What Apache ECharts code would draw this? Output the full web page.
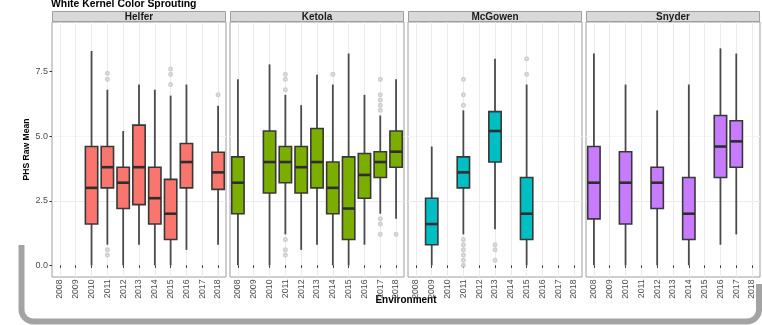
<!DOCTYPE html>
<html>
<head>
<meta charset="utf-8">
<script src="https://cdn.jsdelivr.net/npm/echarts@6/dist/echarts.min.js"></script>
<style>
  html, body { margin: 0; padding: 0; background: #ffffff; }
  #chart { width: 762px; height: 325px; }
</style>
</head>
<body>
<div id="chart"></div>
<script>
// Environments on the x axis of every panel
const years = ['2008', '2009', '2010', '2011', '2012', '2013', '2014', '2015', '2016', '2017', '2018'];
// y-axis tick labels
const yTicks = [0, 2.5, 5, 7.5];
// Panel (location) names
const locations = ['Helfer', 'Ketola', 'McGowen', 'Snyder'];

// Box statistics per location: [year, min, Q1, median, Q3, max]
const helferBoxes = [
  ['2010', 0.0, 1.6, 3.0, 4.6, 8.3],
  ['2011', 0.8, 3.0, 3.8, 4.6, 6.8],
  ['2012', 0.0, 2.2, 3.2, 3.8, 5.2],
  ['2013', 0.8, 2.35, 3.8, 5.43, 7.0],
  ['2014', 0.0, 1.6, 2.6, 3.8, 6.8],
  ['2015', 0.0, 1.0, 2.0, 3.33, 6.57],
  ['2016', 0.6, 3.0, 4.0, 4.72, 7.0],
  ['2018', 0.8, 2.94, 3.6, 4.38, 6.18]
];
const ketolaBoxes = [
  ['2008', 0.0, 2.0, 3.2, 4.2, 7.2],
  ['2010', 0.0, 2.8, 4.0, 5.2, 7.78],
  ['2011', 1.2, 3.2, 4.0, 4.6, 6.6],
  ['2012', 0.6, 2.8, 3.8, 4.6, 6.2],
  ['2013', 0.8, 3.0, 4.0, 5.3, 7.38],
  ['2014', 0.0, 2.0, 3.0, 4.0, 7.0],
  ['2015', 0.0, 1.0, 2.2, 4.2, 8.2],
  ['2016', 0.8, 2.6, 3.5, 4.33, 6.6],
  ['2017', 2.0, 3.4, 4.0, 4.4, 5.8],
  ['2018', 1.8, 3.8, 4.4, 5.2, 7.2]
];
const mcgowenBoxes = [
  ['2009', 0.0, 0.8, 1.6, 2.6, 4.6],
  ['2011', 1.2, 3.0, 3.6, 4.2, 6.0],
  ['2013', 1.4, 4.0, 5.2, 5.95, 8.0],
  ['2015', 0.0, 1.0, 2.0, 3.4, 7.0]
];
const snyderBoxes = [
  ['2008', 0.0, 1.8, 3.2, 4.6, 8.2],
  ['2010', 0.0, 1.6, 3.2, 4.4, 7.0],
  ['2012', 0.0, 2.2, 3.2, 3.8, 6.0],
  ['2014', 0.0, 1.0, 2.0, 3.4, 7.0],
  ['2016', 0.8, 3.4, 4.6, 5.8, 8.4],
  ['2017', 1.2, 3.8, 4.8, 5.6, 8.2]
];

// Outlying plot means: [year, value]
const helferOutliers = [
  ['2011', 7.44], ['2011', 7.2], ['2011', 0.6], ['2011', 0.4],
  ['2015', 7.6], ['2015', 7.4], ['2015', 7.0],
  ['2018', 6.6]
];
const ketolaOutliers = [
  ['2011', 7.4], ['2011', 7.2], ['2011', 6.8], ['2011', 1.0], ['2011', 0.6], ['2011', 0.4],
  ['2014', 7.4],
  ['2017', 7.2], ['2017', 6.6], ['2017', 6.4], ['2017', 6.2], ['2017', 6.0],
  ['2017', 1.8], ['2017', 1.6], ['2017', 1.2],
  ['2018', 1.2]
];
const mcgowenOutliers = [
  ['2011', 7.2], ['2011', 6.6], ['2011', 6.2],
  ['2011', 1.0], ['2011', 0.8], ['2011', 0.6], ['2011', 0.4], ['2011', 0.2], ['2011', 0.0],
  ['2013', 0.8], ['2013', 0.6], ['2013', 0.2],
  ['2015', 8.0], ['2015', 7.4]
];
const snyderOutliers = [];

const boxSets = [helferBoxes, ketolaBoxes, mcgowenBoxes, snyderBoxes];
const outlierSets = [helferOutliers, ketolaOutliers, mcgowenOutliers, snyderOutliers];
const fills = ['#F8766D', '#7CAE00', '#00BFC4', '#C77CFF'];

const FONT = '"Liberation Sans", Arial, Helvetica, sans-serif';
const panelLeft = [52, 230, 408, 586];
const panelWidth = 174;
const panelTop = 22;
const panelHeight = 255;
const stripTop = 11;

// Tukey-style box: whiskers without caps, filled box, heavy median bar
function renderBox(params, api) {
  const x = api.value(0);
  const pts = [1, 2, 3, 4, 5].map(function (d) { return api.coord([x, api.value(d)]); });
  const cx = pts[0][0];
  const bw = api.size([1, 0])[0] * 0.78;
  const fill = api.visual('color');
  const whisker = { stroke: '#4a4a4a', lineWidth: 1.8 };
  return {
    type: 'group',
    children: [
      { type: 'line', shape: { x1: cx, y1: pts[0][1], x2: cx, y2: pts[1][1] }, style: whisker },
      { type: 'line', shape: { x1: cx, y1: pts[3][1], x2: cx, y2: pts[4][1] }, style: whisker },
      { type: 'rect', shape: { x: cx - bw / 2, y: pts[3][1], width: bw, height: pts[1][1] - pts[3][1] },
        style: { fill: fill, stroke: '#383838', lineWidth: 1.6 } },
      { type: 'line', shape: { x1: cx - bw / 2, y1: pts[2][1], x2: cx + bw / 2, y2: pts[2][1] },
        style: { stroke: '#2e2e2e', lineWidth: 2.6 } }
    ]
  };
}

// Rounded bracket outline: straight runs joined by quarter arcs
function bracketPoints(left, top, right, bottom, rightTop, r) {
  const pts = [[left, top]];
  let a;
  for (a = 0; a <= 8; a++) {
    const t = Math.PI - (a / 8) * (Math.PI / 2);
    pts.push([left + r + r * Math.cos(t), bottom - r + r * Math.sin(t)]);
  }
  for (a = 0; a <= 8; a++) {
    const t = Math.PI / 2 - (a / 8) * (Math.PI / 2);
    pts.push([right - r + r * Math.cos(t), bottom - r + r * Math.sin(t)]);
  }
  pts.push([right, rightTop]);
  return pts;
}

const grids = [], xAxes = [], yAxes = [], series = [], graphics = [];

locations.forEach(function (name, i) {
  grids.push({
    left: panelLeft[i], top: panelTop, width: panelWidth, height: panelHeight,
    show: true, backgroundColor: '#ffffff', borderColor: '#9e9e9e', borderWidth: 1
  });
  xAxes.push({
    type: 'category', gridIndex: i, data: years, boundaryGap: true,
    axisLine: { show: false },
    axisTick: { show: true, alignWithLabel: true, interval: 0, length: 2.5, lineStyle: { color: '#333333' } },
    axisLabel: { interval: 0, rotate: 90, fontSize: 8.7, color: '#4d4d4d', margin: 2.5, fontFamily: FONT },
    splitLine: { show: true, alignWithLabel: true, interval: 0, lineStyle: { color: '#ebebeb', width: 1 } }
  });
  yAxes.push({
    type: 'value', gridIndex: i, min: -0.45, max: 9.42, minInterval: 1.25, maxInterval: 1.25,
    axisLine: { show: false },
    axisTick: { show: i === 0, length: 2.5, customValues: yTicks, lineStyle: { color: '#333333' } },
    axisLabel: {
      show: i === 0, customValues: yTicks, fontSize: 9, color: '#4d4d4d', margin: 4, fontFamily: FONT,
      formatter: function (v) { return v.toFixed(1); }
    },
    splitLine: { show: true, showMinLine: false, showMaxLine: false,
      lineStyle: { color: ['#ebebeb', '#f5f5f5'], width: 1 } },
    name: i === 0 ? 'PHS Raw Mean' : '',
    nameLocation: 'middle', nameRotate: 90, nameGap: 19,
    nameTextStyle: { fontSize: 8.6, fontWeight: 'bold', color: '#000000', fontFamily: FONT }
  });
  series.push({
    type: 'custom', xAxisIndex: i, yAxisIndex: i,
    data: boxSets[i], encode: { x: 0, y: [1, 2, 3, 4, 5] },
    itemStyle: { color: fills[i] },
    renderItem: renderBox, z: 3
  });
  series.push({
    type: 'scatter', xAxisIndex: i, yAxisIndex: i,
    data: outlierSets[i], symbol: 'emptyCircle', symbolSize: 3,
    itemStyle: { color: '#c6c6c6', borderColor: '#c6c6c6', borderWidth: 0.9 }, z: 4
  });
  // facet strip
  graphics.push({
    type: 'rect', silent: true,
    shape: { x: panelLeft[i] + 0.5, y: stripTop + 0.5, width: panelWidth - 1, height: panelTop - stripTop - 1 },
    style: { fill: '#d9d9d9', stroke: '#9e9e9e', lineWidth: 1 }
  });
  graphics.push({
    type: 'text', silent: true, x: panelLeft[i] + panelWidth / 2, y: (stripTop + panelTop) / 2 + 0.5,
    style: { text: name, fill: '#1a1a1a', font: 'bold 10px ' + FONT, align: 'center', verticalAlign: 'middle' }
  });
});

// x-axis title spanning all panels
graphics.push({
  type: 'text', silent: true, x: 406, y: 300.5,
  style: { text: 'Environment', fill: '#000000', font: 'bold 10px ' + FONT, align: 'center', verticalAlign: 'middle' }
});
// grey frame curling around the lower part of the figure
graphics.push({
  type: 'polyline', silent: true,
  shape: { points: bracketPoints(21.5, 245, 759, 321.5, 284, 12) },
  style: { fill: null, stroke: '#a3a3a3', lineWidth: 6 }
});

const chart = echarts.init(document.getElementById('chart'), null, { renderer: 'canvas' });
chart.setOption({
  animation: false,
  backgroundColor: '#ffffff',
  title: {
    text: 'White Kernel Color Sprouting', left: 51, top: -0.5, padding: 0,
    textStyle: { fontSize: 10.4, fontWeight: 'bold', color: '#000000', fontFamily: FONT }
  },
  grid: grids,
  xAxis: xAxes,
  yAxis: yAxes,
  series: series,
  graphic: graphics
});
</script>
</body>
</html>
